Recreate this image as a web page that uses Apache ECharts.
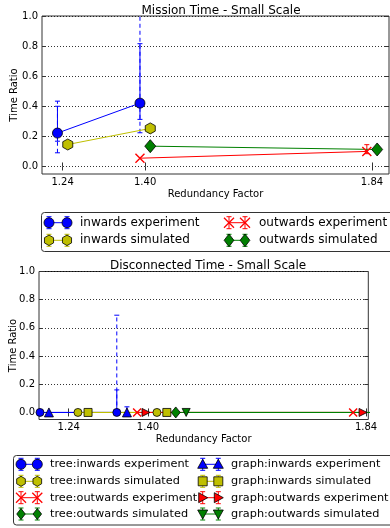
<!DOCTYPE html>
<html><head><meta charset="utf-8">
<script src="https://cdn.jsdelivr.net/npm/echarts@6/dist/echarts.min.js"></script>
<style>html,body{margin:0;padding:0;background:#fff}#c{width:390px;height:528px}</style>
</head><body><div id="c"></div>
<script>
// ---------- data ----------
const xTicks = [1.24, 1.40, 1.84];
const yTicks = [0.0, 0.2, 0.4, 0.6, 0.8, 1.0];

// Mission Time (top)
const missionInwardsExp  = [[1.23, 0.222], [1.39, 0.421]];
const missionInwardsSim  = [[1.25, 0.146], [1.41, 0.253]];
const missionOutwardsExp = [[1.39, 0.055], [1.83, 0.100]];
const missionOutwardsSim = [[1.41, 0.135], [1.85, 0.113]];
const missionInwardsErrSolid  = [[1.23, 0.168, 0.400], [1.39, 0.313, 0.816]];
const missionInwardsErrDashed = [[1.23, 0.091, 0.434], [1.39, 0.224, 1.100]];
const missionOutwardsErrSolid = [[1.83, 0.085, 0.145]];

// Disconnected Time (bottom)
const discTreeInExp   = [[1.182, 0], [1.337, 0]];
const discGraphInExp  = [[1.200, 0], [1.3575, 0]];
const discTreeInSim   = [[1.2586, 0], [1.418, 0]];
const discGraphInSim  = [[1.279, 0], [1.438, 0]];
const discTreeOutExp  = [[1.378, 0], [1.814, 0]];
const discGraphOutExp = [[1.396, 0], [1.834, 0]];
const discTreeOutSim  = [[1.456, 0], [1.900, 0]];
const discGraphOutSim = [[1.477, 0], [1.920, 0]];
const discTreeInErrSolid   = [[1.337, 0, 0.16]];
const discTreeInErrDashed  = [[1.337, 0, 0.69]];
const discGraphInErrSolid  = [[1.3575, 0, 0.04]];

const topLegendNames = ['inwards experiment', 'outwards experiment', 'inwards simulated', 'outwards simulated'];
const bottomLegendNames = ['tree:inwards experiment', 'graph:inwards experiment',
  'tree:inwards simulated', 'graph:inwards simulated',
  'tree:outwards experiment', 'graph:outwards experiment',
  'tree:outwards simulated', 'graph:outwards simulated'];

// ---------- styling ----------
const FONT = 'DejaVu Sans';
const BLUE = '#0000ff', YEL = '#bfbf00', RED = '#ff0000', GRN = '#008000';
const SYM = {
  hex: 'path://M0,-1 L0.866,-0.5 L0.866,0.5 L0,1 L-0.866,0.5 L-0.866,-0.5 Z',
  x: 'path://M0,0 L1,1 M1,0 L0,1',
  tright: 'path://M0,0 L1,0.5 L0,1 Z',
  tdown: 'path://M0,0 L1,0 L0.5,1 Z'
};

function lineSeries(name, data, color, symbol, size, xi, yi, isX) {
  return {
    type: 'line', name, data, xAxisIndex: xi, yAxisIndex: yi, clip: true,
    symbol, symbolSize: size, showAllSymbol: true, z: 3,
    lineStyle: { color, width: 1 },
    itemStyle: isX ? { color: 'rgba(0,0,0,0)', borderColor: color, borderWidth: 1.4 }
                   : { color, borderColor: '#000', borderWidth: 0.8 },
    emphasis: { disabled: true }, animation: false
  };
}
function errSeries(data, color, dashed, xi, yi) {
  return {
    type: 'custom', data, xAxisIndex: xi, yAxisIndex: yi, clip: true, z: 2,
    encode: { x: 0, y: [1, 2] }, animation: false, silent: true,
    renderItem(params, api) {
      const x = api.value(0), p1 = api.coord([x, api.value(1)]), p2 = api.coord([x, api.value(2)]);
      const c = 2.5;
      return { type: 'group', children: [
        { type: 'line', shape: { x1: p1[0], y1: p1[1], x2: p2[0], y2: p2[1] },
          style: { stroke: color, lineWidth: 1, lineDash: dashed ? [4, 3] : null } },
        { type: 'line', shape: { x1: p1[0] - c, y1: p1[1], x2: p1[0] + c, y2: p1[1] }, style: { stroke: color, lineWidth: 1 } },
        { type: 'line', shape: { x1: p2[0] - c, y1: p2[1], x2: p2[0] + c, y2: p2[1] }, style: { stroke: color, lineWidth: 1 } }
      ]};
    }
  };
}

const axisText = { fontFamily: FONT, fontSize: 10, color: '#000' };
function xAx(grid, min, max, pos, labels) {
  return {
    type: 'value', gridIndex: grid, min, max, position: pos,
    axisLine: { show: false },
    axisTick: { show: true, inside: true, length: 4, customValues: xTicks, lineStyle: { color: '#333' } },
    axisLabel: { show: labels, customValues: xTicks, formatter: v => v.toFixed(2), margin: 3, ...axisText },
    splitLine: { show: false },
    name: labels ? 'Redundancy Factor' : '', nameLocation: 'middle', nameGap: 15, nameMoveOverlap: false,
    nameTextStyle: { fontFamily: FONT, fontSize: 10, color: '#000' }
  };
}
function yAx(grid, pos, labels, gap) {
  return {
    type: 'value', gridIndex: grid, min: -0.05, max: 1.0, position: pos,
    axisLine: { show: false },
    axisTick: { show: true, inside: true, length: 4, customValues: yTicks, lineStyle: { color: '#333' } },
    axisLabel: { show: labels, customValues: yTicks, formatter: v => v.toFixed(1), margin: 4, ...axisText },
    splitLine: { show: labels, lineStyle: { color: '#000', width: 0.8, type: [1, 2] } },
    name: labels ? 'Time Ratio' : '', nameLocation: 'middle', nameGap: gap, nameMoveOverlap: false,
    nameTextStyle: { fontFamily: FONT, fontSize: 10, color: '#000' }
  };
}

// ---------- legend graphics ----------
function marker(sym, cx, cy, color, s) {
  const r = s / 2;
  const st = { fill: color, stroke: '#000', lineWidth: 0.8 };
  const poly = pts => ({ type: 'polygon', shape: { points: pts }, style: st });
  switch (sym) {
    case 'circle': return { type: 'circle', shape: { cx, cy, r }, style: st };
    case 'hex': return poly([[cx, cy - r], [cx + r * 0.866, cy - r / 2], [cx + r * 0.866, cy + r / 2], [cx, cy + r], [cx - r * 0.866, cy + r / 2], [cx - r * 0.866, cy - r / 2]]);
    case 'diamond': return poly([[cx, cy - r * 1.1], [cx + r * 0.85, cy], [cx, cy + r * 1.1], [cx - r * 0.85, cy]]);
    case 'triangle': return poly([[cx, cy - r], [cx + r, cy + r * 0.8], [cx - r, cy + r * 0.8]]);
    case 'tdown': return poly([[cx - r, cy - r * 0.8], [cx + r, cy - r * 0.8], [cx, cy + r]]);
    case 'tright': return poly([[cx - r * 0.8, cy - r], [cx + r, cy], [cx - r * 0.8, cy + r]]);
    case 'rect': return { type: 'rect', shape: { x: cx - r * 0.9, y: cy - r * 0.9, width: r * 1.8, height: r * 1.8 }, style: st };
    case 'x': return { type: 'group', children: [
      { type: 'line', shape: { x1: cx - r, y1: cy - r, x2: cx + r, y2: cy + r }, style: { stroke: color, lineWidth: 1.3 } },
      { type: 'line', shape: { x1: cx + r, y1: cy - r, x2: cx - r, y2: cy + r }, style: { stroke: color, lineWidth: 1.3 } } ] };
  }
}
function legendEntry(x1, x2, cy, tx, name, color, sym, s, fs) {
  const els = [{ type: 'line', shape: { x1, y1: cy, x2, y2: cy }, style: { stroke: color, lineWidth: 1 } }];
  [x1, x2].forEach(x => {
    els.push({ type: 'line', shape: { x1: x, y1: cy - 6, x2: x, y2: cy + 6 }, style: { stroke: color, lineWidth: 1 } });
    els.push({ type: 'line', shape: { x1: x - 2.5, y1: cy - 6, x2: x + 2.5, y2: cy - 6 }, style: { stroke: color, lineWidth: 1 } });
    els.push({ type: 'line', shape: { x1: x - 2.5, y1: cy + 6, x2: x + 2.5, y2: cy + 6 }, style: { stroke: color, lineWidth: 1 } });
  });
  els.push(marker(sym, x1, cy, color, s));
  els.push(marker(sym, x2, cy, color, s));
  els.push({ type: 'text', style: { x: tx, y: cy, text: name, fontFamily: FONT, fontSize: fs, fill: '#000', textVerticalAlign: 'middle' } });
  return els;
}

const graphics = [];
graphics.push({ type: 'rect', shape: { x: 41.5, y: 212.5, width: 360, height: 39, r: 3 }, style: { fill: '#fff', stroke: '#333', lineWidth: 1 } });
graphics.push(...legendEntry(49, 67, 222.7, 80, topLegendNames[0], BLUE, 'circle', 10, 12));
graphics.push(...legendEntry(229, 245, 222.7, 259, topLegendNames[1], RED, 'x', 10, 12));
graphics.push(...legendEntry(49, 67, 240.3, 80, topLegendNames[2], YEL, 'hex', 10.5, 12));
graphics.push(...legendEntry(229, 245, 240.3, 259, topLegendNames[3], GRN, 'diamond', 11.5, 12));

graphics.push({ type: 'rect', shape: { x: 13.5, y: 455.5, width: 390, height: 69.5, r: 3 }, style: { fill: '#fff', stroke: '#333', lineWidth: 1 } });
const bl = [
  [BLUE, 'circle'], [BLUE, 'triangle'], [YEL, 'hex'], [YEL, 'rect'],
  [RED, 'x'], [RED, 'tright'], [GRN, 'diamond'], [GRN, 'tdown']
];
const rowsY = [464.3, 481.3, 497.7, 514];
bl.forEach((b, i) => {
  const row = Math.floor(i / 2), col = i % 2;
  const x1 = col ? 202.7 : 21, x2 = col ? 218.3 : 37.3, tx = col ? 231 : 50;
  graphics.push(...legendEntry(x1, x2, rowsY[row], tx, bottomLegendNames[i], b[0], b[1], 10, 11.3));
});

// ---------- chart ----------
const chart = echarts.init(document.getElementById('c'), null, { renderer: 'canvas' });
chart.setOption({
  animation: false,
  backgroundColor: '#fff',
  title: [
    { text: 'Mission Time - Small Scale', left: 216, top: 0, textAlign: 'center',
      textStyle: { fontFamily: FONT, fontSize: 12, fontWeight: 'normal', color: '#000' } },
    { text: 'Disconnected Time - Small Scale', left: 203, top: 255, textAlign: 'center',
      textStyle: { fontFamily: FONT, fontSize: 12, fontWeight: 'normal', color: '#000' } }
  ],
  grid: [
    { left: 42, right: 1, top: 16, height: 158, show: true, borderColor: '#333', borderWidth: 1,
      backgroundColor: 'transparent', outerBoundsMode: 'none', containLabel: false },
    { left: 39, right: 21.7, top: 271.5, height: 148, show: true, borderColor: '#333', borderWidth: 1,
      backgroundColor: 'transparent', outerBoundsMode: 'none', containLabel: false }
  ],
  xAxis: [
    xAx(0, 1.2, 1.873, 'bottom', true), xAx(0, 1.2, 1.873, 'top', false),
    xAx(1, 1.18, 1.8446, 'bottom', true), xAx(1, 1.18, 1.8446, 'top', false)
  ],
  yAxis: [
    yAx(0, 'left', true, 23), yAx(0, 'right', false, 0),
    yAx(1, 'left', true, 21), yAx(1, 'right', false, 0)
  ],
  series: [
    errSeries(missionInwardsErrDashed, BLUE, true, 0, 0),
    errSeries(missionInwardsErrSolid, BLUE, false, 0, 0),
    errSeries(missionOutwardsErrSolid, RED, false, 0, 0),
    lineSeries('inwards experiment', missionInwardsExp, BLUE, 'circle', 10, 0, 0),
    lineSeries('inwards simulated', missionInwardsSim, YEL, SYM.hex, [10, 11], 0, 0),
    lineSeries('outwards experiment', missionOutwardsExp, RED, SYM.x, 9, 0, 0, true),
    lineSeries('outwards simulated', missionOutwardsSim, GRN, 'diamond', [11, 13], 0, 0),

    errSeries(discTreeInErrDashed, BLUE, true, 2, 2),
    errSeries(discTreeInErrSolid, BLUE, false, 2, 2),
    errSeries(discGraphInErrSolid, BLUE, false, 2, 2),
    lineSeries('tree:inwards experiment', discTreeInExp, BLUE, 'circle', 8, 2, 2),
    lineSeries('graph:inwards experiment', discGraphInExp, BLUE, 'triangle', 9, 2, 2),
    lineSeries('tree:inwards simulated', discTreeInSim, YEL, 'circle', 8, 2, 2),
    lineSeries('graph:inwards simulated', discGraphInSim, YEL, 'rect', 8, 2, 2),
    lineSeries('tree:outwards experiment', discTreeOutExp, RED, SYM.x, 8, 2, 2, true),
    lineSeries('graph:outwards experiment', discGraphOutExp, RED, SYM.tright, 8, 2, 2),
    lineSeries('tree:outwards simulated', discTreeOutSim, GRN, 'diamond', [9, 11], 2, 2),
    lineSeries('graph:outwards simulated', discGraphOutSim, GRN, SYM.tdown, 8, 2, 2)
  ],
  graphic: graphics
});
</script></body></html>
